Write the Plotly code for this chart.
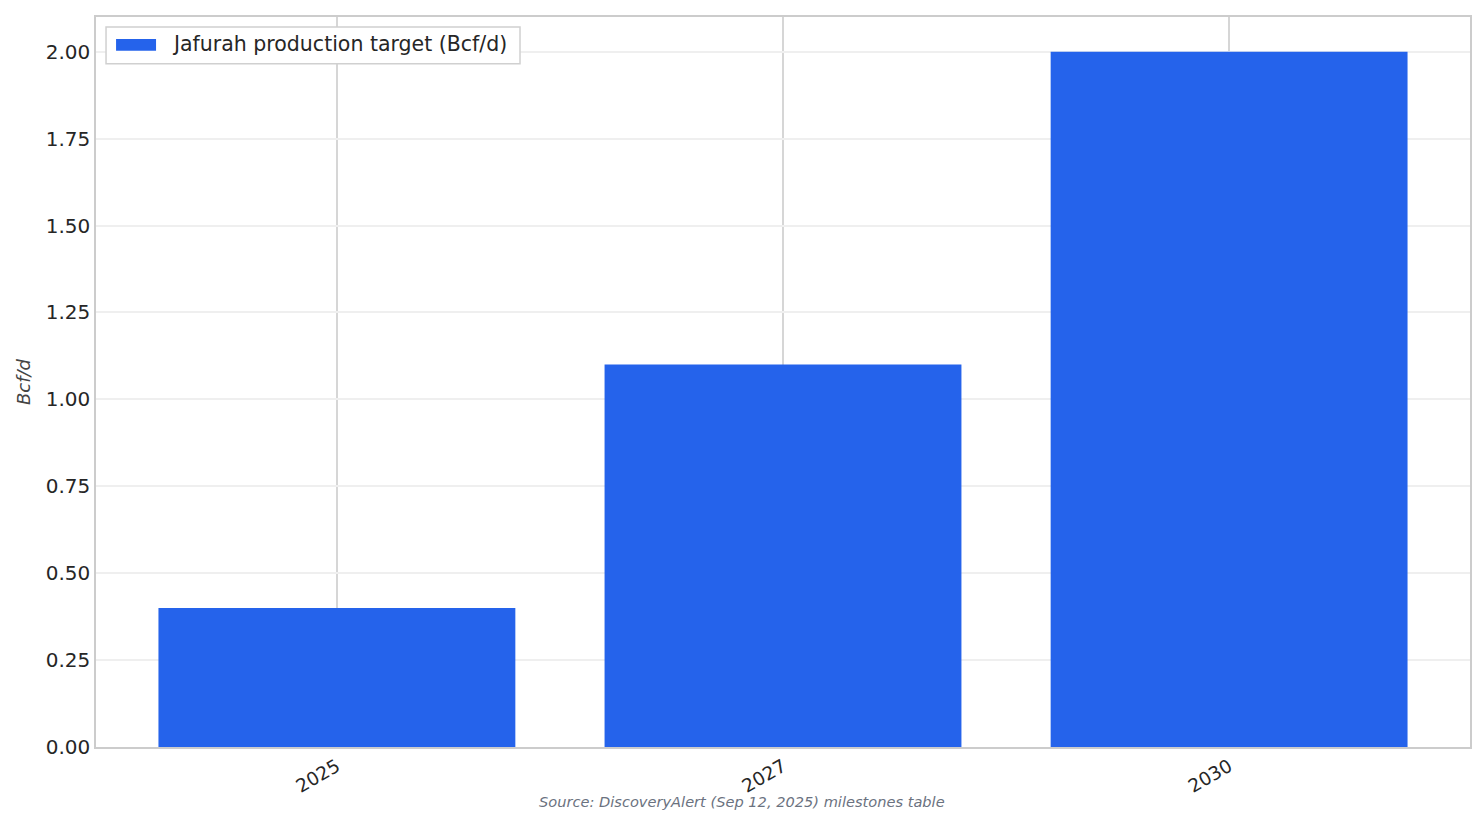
import plotly.graph_objects as go

years = ["2025", "2027", "2030"]
target_bcfd = [0.4, 1.1, 2.0]
series_name = "Jafurah production target (Bcf/d)"
y_ticks = [0.0, 0.25, 0.5, 0.75, 1.0, 1.25, 1.5, 1.75, 2.0]
y_tick_text = ["0.00", "0.25", "0.50", "0.75", "1.00", "1.25", "1.50", "1.75", "2.00"]

font_family = "DejaVu Sans"
bar_color = "#2563eb"

fig = go.Figure()
fig.add_trace(go.Bar(x=years, y=target_bcfd, name=series_name,
                     marker=dict(color=bar_color, line=dict(width=0)),
                     width=0.8, showlegend=False))

# page body has an 8px margin, so the figure is 16px smaller than the window
fig.update_layout(
  width=1476, height=816,
  margin=dict(l=88, r=14, t=7, b=77),
  paper_bgcolor="white", plot_bgcolor="white",
  font=dict(family=font_family, size=20, color="#262626"),
  showlegend=False,
)

fig.update_xaxes(type="category", range=[-0.54, 2.54],
                 showgrid=True, gridcolor="#d6d6d6", gridwidth=2,
                 tickangle=-30, tickfont=dict(size=18.5),
                 showline=True, linecolor="#cccccc", linewidth=1.5, mirror=True,
                 ticks="", layer="below traces")
fig.update_yaxes(range=[0, 2.1], tickvals=y_ticks, ticktext=y_tick_text,
                 showgrid=True, gridcolor="#efefef", gridwidth=1.5,
                 showline=True, linecolor="#cccccc", linewidth=1.5, mirror=True,
                 zeroline=False, ticks="", tickfont=dict(size=20),
                 title=dict(text="<i>Bcf/d</i>", font=dict(size=18, color="#444444"), standoff=10))

# legend box drawn by hand to get the wide matplotlib-style swatch
fig.add_shape(type="rect", xref="paper", yref="paper",
              x0=0.0073, x1=0.3086, y0=0.9358, y1=0.9863,
              fillcolor="white", line=dict(color="#d0d0d0", width=1.5), layer="above")
fig.add_shape(type="rect", xref="paper", yref="paper",
              x0=0.0146, x1=0.0437, y0=0.9536, y1=0.9699,
              fillcolor=bar_color, line=dict(width=0), layer="above")
fig.add_annotation(text=series_name, xref="paper", yref="paper",
                   x=0.0539, y=0.9630, xanchor="left", yanchor="middle",
                   showarrow=False, font=dict(size=20.5, color="#262626"))

fig.add_annotation(text="<i>Source: DiscoveryAlert (Sep 12, 2025) milestones table</i>",
                   xref="paper", yref="paper", x=0.47, y=0, yshift=-54,
                   xanchor="center", yanchor="middle", showarrow=False,
                   font=dict(size=14.6, color="#6b7280"))

fig.write_html("out.html")
